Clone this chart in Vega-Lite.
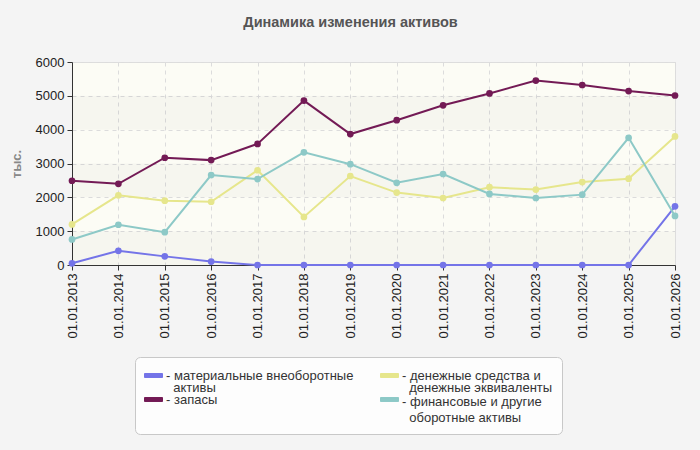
{
  "$schema": "https://vega.github.io/schema/vega-lite/v6.json",
  "width": 603,
  "height": 203,
  "autosize": {"type": "none"},
  "padding": {"left": 72, "top": 62, "right": 25, "bottom": 185},
  "background": "#f4f4f4",
  "title": {"text": "Динамика изменения активов", "font": "Liberation Sans", "fontSize": 14.5, "fontWeight": "bold", "color": "#555555", "anchor": "middle", "dx": -23, "offset": 26},
  "config": {
    "font": "Liberation Sans",
    "view": {"fill": "#fcfcf5", "stroke": "#dddddd"}
  },
  "datasets": {
    "bands": [
      {"low": 0, "high": 1000},
      {"low": 2000, "high": 3000},
      {"low": 4000, "high": 5000}
    ],
    "series": [
      {"date": "01.01.2013", "series": "материальные внеоборотные активы", "value": 50},
      {"date": "01.01.2014", "series": "материальные внеоборотные активы", "value": 420},
      {"date": "01.01.2015", "series": "материальные внеоборотные активы", "value": 255},
      {"date": "01.01.2016", "series": "материальные внеоборотные активы", "value": 100},
      {"date": "01.01.2017", "series": "материальные внеоборотные активы", "value": 0},
      {"date": "01.01.2018", "series": "материальные внеоборотные активы", "value": 0},
      {"date": "01.01.2019", "series": "материальные внеоборотные активы", "value": 0},
      {"date": "01.01.2020", "series": "материальные внеоборотные активы", "value": 0},
      {"date": "01.01.2021", "series": "материальные внеоборотные активы", "value": 0},
      {"date": "01.01.2022", "series": "материальные внеоборотные активы", "value": 0},
      {"date": "01.01.2023", "series": "материальные внеоборотные активы", "value": 0},
      {"date": "01.01.2024", "series": "материальные внеоборотные активы", "value": 0},
      {"date": "01.01.2025", "series": "материальные внеоборотные активы", "value": 0},
      {"date": "01.01.2026", "series": "материальные внеоборотные активы", "value": 1735},
      {"date": "01.01.2013", "series": "запасы", "value": 2490},
      {"date": "01.01.2014", "series": "запасы", "value": 2400},
      {"date": "01.01.2015", "series": "запасы", "value": 3170},
      {"date": "01.01.2016", "series": "запасы", "value": 3100},
      {"date": "01.01.2017", "series": "запасы", "value": 3580},
      {"date": "01.01.2018", "series": "запасы", "value": 4860},
      {"date": "01.01.2019", "series": "запасы", "value": 3870},
      {"date": "01.01.2020", "series": "запасы", "value": 4280},
      {"date": "01.01.2021", "series": "запасы", "value": 4720},
      {"date": "01.01.2022", "series": "запасы", "value": 5070},
      {"date": "01.01.2023", "series": "запасы", "value": 5450},
      {"date": "01.01.2024", "series": "запасы", "value": 5320},
      {"date": "01.01.2025", "series": "запасы", "value": 5140},
      {"date": "01.01.2026", "series": "запасы", "value": 5010},
      {"date": "01.01.2013", "series": "денежные средства и денежные эквиваленты", "value": 1200},
      {"date": "01.01.2014", "series": "денежные средства и денежные эквиваленты", "value": 2060},
      {"date": "01.01.2015", "series": "денежные средства и денежные эквиваленты", "value": 1900},
      {"date": "01.01.2016", "series": "денежные средства и денежные эквиваленты", "value": 1870},
      {"date": "01.01.2017", "series": "денежные средства и денежные эквиваленты", "value": 2800},
      {"date": "01.01.2018", "series": "денежные средства и денежные эквиваленты", "value": 1420},
      {"date": "01.01.2019", "series": "денежные средства и денежные эквиваленты", "value": 2630},
      {"date": "01.01.2020", "series": "денежные средства и денежные эквиваленты", "value": 2140},
      {"date": "01.01.2021", "series": "денежные средства и денежные эквиваленты", "value": 1980},
      {"date": "01.01.2022", "series": "денежные средства и денежные эквиваленты", "value": 2300},
      {"date": "01.01.2023", "series": "денежные средства и денежные эквиваленты", "value": 2230},
      {"date": "01.01.2024", "series": "денежные средства и денежные эквиваленты", "value": 2450},
      {"date": "01.01.2025", "series": "денежные средства и денежные эквиваленты", "value": 2550},
      {"date": "01.01.2026", "series": "денежные средства и денежные эквиваленты", "value": 3800},
      {"date": "01.01.2013", "series": "финансовые и другие оборотные активы", "value": 755},
      {"date": "01.01.2014", "series": "финансовые и другие оборотные активы", "value": 1190},
      {"date": "01.01.2015", "series": "финансовые и другие оборотные активы", "value": 970},
      {"date": "01.01.2016", "series": "финансовые и другие оборотные активы", "value": 2660},
      {"date": "01.01.2017", "series": "финансовые и другие оборотные активы", "value": 2540},
      {"date": "01.01.2018", "series": "финансовые и другие оборотные активы", "value": 3330},
      {"date": "01.01.2019", "series": "финансовые и другие оборотные активы", "value": 2980},
      {"date": "01.01.2020", "series": "финансовые и другие оборотные активы", "value": 2430},
      {"date": "01.01.2021", "series": "финансовые и другие оборотные активы", "value": 2690},
      {"date": "01.01.2022", "series": "финансовые и другие оборотные активы", "value": 2100},
      {"date": "01.01.2023", "series": "финансовые и другие оборотные активы", "value": 1980},
      {"date": "01.01.2024", "series": "финансовые и другие оборотные активы", "value": 2080},
      {"date": "01.01.2025", "series": "финансовые и другие оборотные активы", "value": 3760},
      {"date": "01.01.2026", "series": "финансовые и другие оборотные активы", "value": 1450}
    ]
  },
  "layer": [
    {
      "data": {"name": "bands"},
      "mark": {"type": "rect", "color": "#000000", "opacity": 0.022},
      "encoding": {
        "y": {
          "field": "low", "type": "quantitative", "scale": {"domain": [0, 6000]},
          "axis": {
            "title": "тыс.", "titleColor": "#888888", "titleFontSize": 13, "titleFontWeight": "bold",
            "titlePadding": 12, "values": [0, 1000, 2000, 3000, 4000, 5000, 6000], "format": "d",
            "labelFontSize": 13, "labelColor": "#222222", "labelPadding": 3,
            "tickSize": 5, "tickColor": "#333333", "domainColor": "#333333",
            "gridDash": [4, 4], "gridColor": "#dcdcdc"
          }
        },
        "y2": {"field": "high"}
      }
    },
    {
      "data": {"name": "series"},
      "encoding": {
        "x": {
          "field": "date", "type": "ordinal",
          "scale": {"type": "point", "padding": 0},
          "axis": {
            "title": null, "labelAngle": 270, "labelFontSize": 13, "labelColor": "#222222",
            "labelPadding": 3, "tickSize": 5, "tickColor": "#333333", "domainColor": "#333333",
            "grid": true, "gridDash": [4, 4], "gridColor": "#dcdcdc"
          }
        },
        "y": {
          "field": "value", "type": "quantitative",
          "scale": {"domain": [0, 6000]},
          "axis": {
            "title": "тыс.", "titleColor": "#888888", "titleFontSize": 13, "titleFontWeight": "bold",
            "titlePadding": 12, "values": [0, 1000, 2000, 3000, 4000, 5000, 6000], "format": "d",
            "labelFontSize": 13, "labelColor": "#222222", "labelPadding": 3,
            "tickSize": 5, "tickColor": "#333333", "domainColor": "#333333",
            "gridDash": [4, 4], "gridColor": "#dcdcdc"
          }
        },
        "color": {
          "field": "series", "type": "nominal",
          "scale": {
            "domain": ["материальные внеоборотные активы", "запасы", "денежные средства и денежные эквиваленты", "финансовые и другие оборотные активы"],
            "range": ["#7474e8", "#731a55", "#e6e68c", "#8dc9c7"]
          },
          "legend": {
            "orient": "none", "legendX": 63, "legendY": 295, "columns": 2, "title": null,
            "fillColor": "#fdfdfd", "strokeColor": "#c8c8c8", "cornerRadius": 5, "padding": 9,
            "symbolType": "M-1,-0.22H1V0.22H-1Z", "symbolSize": 324, "symbolStrokeWidth": 1,
            "labelFont": "Liberation Sans", "labelFontSize": 13, "labelColor": "#333333",
            "labelBaseline": "alphabetic", "labelLimit": 400, "labelOffset": 3,
            "columnPadding": 24, "rowPadding": -5, "gridAlign": "none",
            "labelExpr": "datum.label == 'материальные внеоборотные активы' ? ['- материальные внеоборотные', '\u200b\u00a0\u00a0активы'] : datum.label == 'денежные средства и денежные эквиваленты' ? ['- денежные средства и', '\u200b\u00a0\u00a0денежные эквиваленты'] : datum.label == 'финансовые и другие оборотные активы' ? ['- финансовые и другие', '\u200b\u00a0\u00a0оборотные активы'] : '- ' + datum.label",
            "encode": {
              "symbols": {"update": {"fill": {"scale": "color", "field": "value"}, "stroke": {"value": "#aaaaaa"}, "strokeWidth": {"value": 1}, "opacity": {"value": 1}}},
              "labels": {"update": {
                "lineHeight": {"signal": "datum.value == 'финансовые и другие оборотные активы' ? 16 : 12"},
                "dy": {"signal": "datum.value == 'финансовые и другие оборотные активы' ? 6 : 4"}
              }}
            }
          }
        }
      },
      "layer": [
        {"mark": {"type": "line", "strokeWidth": 2}},
        {"mark": {"type": "point", "filled": true, "size": 45, "opacity": 1}}
      ]
    }
  ]
}
